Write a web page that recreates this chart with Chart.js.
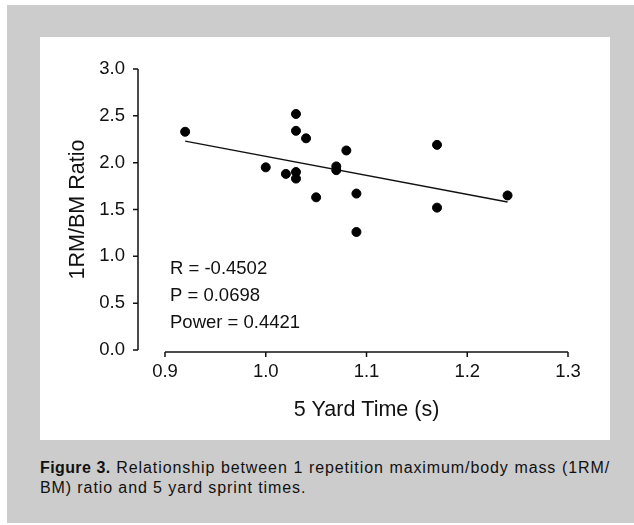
<!DOCTYPE html>
<html>
<head>
<meta charset="utf-8">
<script src="https://cdn.jsdelivr.net/npm/chart.js@4/dist/chart.umd.min.js"></script>
<style>
  html, body { margin: 0; padding: 0; background: #fff; }
  body { width: 634px; height: 525px; position: relative; overflow: hidden; }
  #frame { position: absolute; left: 7px; top: 5px; width: 627px; height: 518px; background: #cccccc; }
  #panel { position: absolute; left: 40px; top: 37px; width: 570px; height: 403px; background: #fff; }
  #caption {
    position: absolute; left: 40px; top: 458px; width: 570px;
    font-family: "Liberation Sans", Arial, sans-serif; font-size: 16px; letter-spacing: 0.9px;
    line-height: 20px; color: #111;
  }
  #caption .l1 { text-align: justify; text-align-last: justify; }
  #caption b { font-weight: bold; font-size: 16px; letter-spacing: 0.4px; }
</style>
</head>
<body>
<div id="frame"></div>
<div id="panel"><canvas id="chart" width="570" height="403"></canvas></div>
<div id="caption">
  <div class="l1"><b>Figure 3.</b> Relationship between 1 repetition maximum/body mass (1RM/</div>
  <div>BM) ratio and 5 yard sprint times.</div>
</div>
<script>
// ── Data ───────────────────────────────────────────────────────────────────

const sprintTime = [0.92, 1.03, 1.03, 1.04, 1.08, 1.17, 1.00, 1.02, 1.03, 1.03, 1.07, 1.07, 1.05, 1.09, 1.09, 1.17, 1.24];
const rmRatio    = [2.33, 2.52, 2.34, 2.26, 2.13, 2.19, 1.95, 1.88, 1.90, 1.83, 1.96, 1.92, 1.63, 1.67, 1.26, 1.52, 1.65];

const trendX = [0.92, 1.24];
const trendY = [2.23, 1.58];

const xTicks = [0.9, 1.0, 1.1, 1.2, 1.3];
const yTicks = [0.0, 0.5, 1.0, 1.5, 2.0, 2.5, 3.0];

const statLines = ['R = -0.4502', 'P = 0.0698', 'Power = 0.4421'];

// ── Helpers ────────────────────────────────────────────────────────────────

const FONT = '"Liberation Sans", Arial, sans-serif';
const INK = '#111';

// detached axes: y line sits left of the plot, x line just under it
const axesPlugin = {
  id: 'axes',
  afterDraw(chart) {
    const { ctx, scales: { x, y }, chartArea } = chart;
    ctx.save();
    ctx.strokeStyle = INK;
    ctx.lineWidth = 1.5;

    const yx = chartArea.left - 27;
    ctx.beginPath();
    ctx.moveTo(yx, y.getPixelForValue(yTicks[yTicks.length - 1]));
    ctx.lineTo(yx, y.getPixelForValue(yTicks[0]));
    yTicks.forEach(v => {
      const py = y.getPixelForValue(v);
      ctx.moveTo(yx - 5, py);
      ctx.lineTo(yx, py);
    });
    ctx.stroke();

    const xy = y.getPixelForValue(0) + 2;
    ctx.beginPath();
    ctx.moveTo(x.getPixelForValue(xTicks[0]), xy);
    ctx.lineTo(x.getPixelForValue(xTicks[xTicks.length - 1]), xy);
    xTicks.forEach(v => {
      const px = x.getPixelForValue(v);
      ctx.moveTo(px, xy);
      ctx.lineTo(px, xy + 5);
    });
    ctx.stroke();

    ctx.fillStyle = INK;
    ctx.font = '18.5px ' + FONT;
    ctx.textBaseline = 'middle';
    ctx.textAlign = 'left';
    statLines.forEach((s, i) => {
      ctx.fillText(s, chartArea.left + 5, 232 + i * 27);
    });
    ctx.restore();
  },
};

// ── Chart ──────────────────────────────────────────────────────────────────

new Chart(document.getElementById('chart'), {
  type: 'scatter',
  data: {
    datasets: [
      {
        data: sprintTime.map((t, i) => ({ x: t, y: rmRatio[i] })),
        backgroundColor: '#000',
        borderColor: '#000',
        pointRadius: 4.5,
        pointHoverRadius: 4.5,
      },
      {
        type: 'line',
        data: trendX.map((t, i) => ({ x: t, y: trendY[i] })),
        borderColor: INK,
        borderWidth: 1.5,
        pointRadius: 0,
        fill: false,
      },
    ],
  },
  options: {
    responsive: false,
    animation: false,
    devicePixelRatio: 1,
    layout: { padding: { left: 0, right: 42, top: 32, bottom: 0 } },
    plugins: { legend: { display: false }, tooltip: { enabled: false } },
    scales: {
      x: {
        min: 0.9, max: 1.3,
        afterFit: (s) => { s.height = 90; },
        afterBuildTicks: (s) => { s.ticks = xTicks.map(v => ({ value: v })); },
        border: { display: false },
        grid: { display: false, drawTicks: false },
        ticks: {
          color: INK, padding: 11, maxRotation: 0,
          font: { family: FONT, size: 18.5 },
          callback: (v) => v.toFixed(1),
        },
        title: {
          display: true, text: '5 Yard Time (s)', color: INK,
          font: { family: FONT, size: 21.5 },
          padding: { top: 0, bottom: 17 },
        },
      },
      y: {
        min: 0, max: 3,
        // tick padding would otherwise push the plot top down
        afterFit: (s) => { s.width = 125; s.paddingTop = 0; s.paddingBottom = 0; },
        afterBuildTicks: (s) => { s.ticks = yTicks.map(v => ({ value: v })); },
        border: { display: false },
        grid: { display: false, drawTicks: false },
        ticks: {
          color: INK, padding: 40,
          font: { family: FONT, size: 18.5 },
          callback: (v) => v.toFixed(1),
        },
        title: {
          display: true, text: '1RM/BM Ratio', color: INK,
          font: { family: FONT, size: 21.5 },
          padding: { top: 25, bottom: 0 },
        },
      },
    },
  },
  plugins: [axesPlugin],
});
</script>
</body>
</html>
